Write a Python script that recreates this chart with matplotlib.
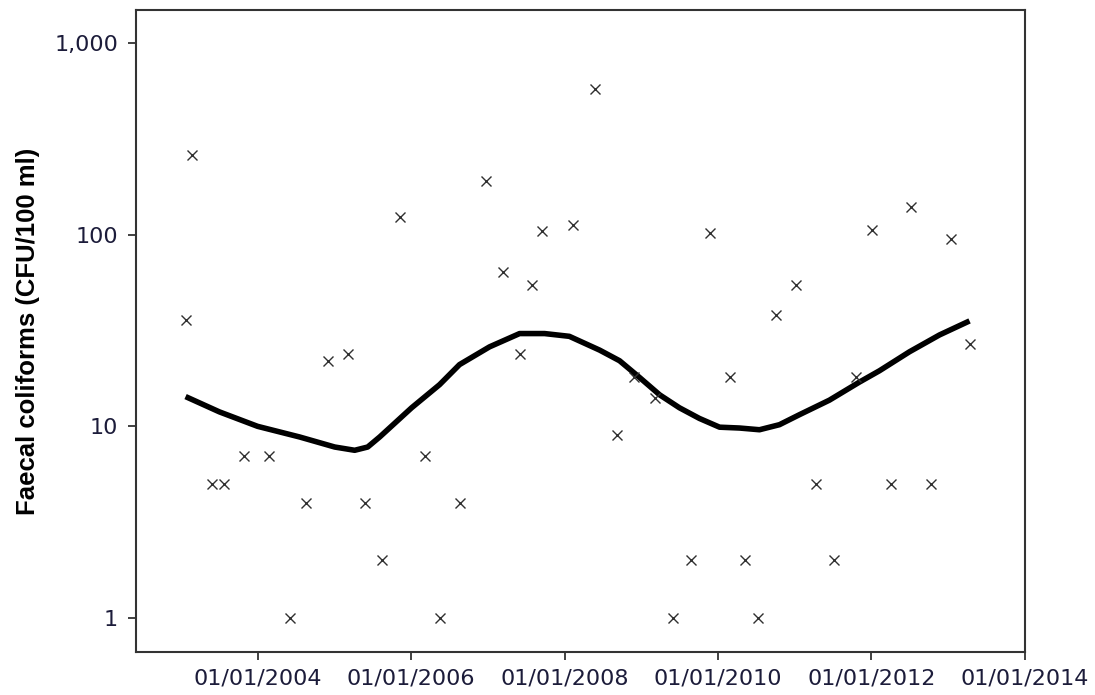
import matplotlib
matplotlib.use("Agg")
import matplotlib.pyplot as plt
import matplotlib.dates as mdates
from matplotlib.ticker import FixedLocator, FuncFormatter, NullLocator
import pandas as pd

sample_dates = ["2003-01-23", "2003-02-21", "2003-05-27", "2003-07-23", "2003-10-26",
                "2004-02-26", "2004-06-01", "2004-08-17", "2004-11-29", "2005-03-05",
                "2005-05-25", "2005-08-14", "2005-11-09", "2006-03-06", "2006-05-16",
                "2006-08-19", "2006-12-25", "2007-03-12", "2007-06-01", "2007-08-01",
                "2007-09-18", "2008-02-08", "2008-05-23", "2008-09-05", "2008-11-29",
                "2009-03-05", "2009-05-29", "2009-08-23", "2009-11-25", "2010-03-01",
                "2010-05-08", "2010-07-12", "2010-10-05", "2011-01-09", "2011-04-14",
                "2011-07-08", "2011-10-21", "2012-01-05", "2012-04-04", "2012-07-07",
                "2012-10-10", "2013-01-16", "2013-04-12"]
sample_values = [36, 260, 5, 5, 7, 7, 1, 4, 22, 24, 4, 2, 124, 7, 1, 4, 190, 64, 24, 55,
                 104, 112, 580, 9, 18, 14, 1, 2, 102, 18, 2, 1, 38, 55, 5, 2, 18, 106,
                 5, 140, 5, 95, 27]

trend_dates = ["2003-01-23", "2003-07-03", "2004-01-01", "2004-07-19", "2005-01-02",
               "2005-04-07", "2005-06-08", "2005-08-04", "2006-01-03", "2006-05-16",
               "2006-08-19", "2007-01-09", "2007-06-01", "2007-09-28", "2008-01-24",
               "2008-06-16", "2008-09-19", "2008-12-23", "2009-03-29", "2009-07-01",
               "2009-10-04", "2010-01-08", "2010-04-13", "2010-07-17", "2010-10-20",
               "2011-01-23", "2011-06-15", "2011-11-04", "2012-02-08", "2012-06-30",
               "2012-11-20", "2013-04-12"]
trend_values = [14.3, 11.9, 10.0, 8.8, 7.8, 7.5, 7.8, 8.8, 12.5, 16.5, 21, 26, 30.5,
                30.5, 29.5, 25, 22, 18, 14.6, 12.5, 11, 9.9, 9.8, 9.6, 10.2, 11.5,
                13.7, 17, 19.5, 24.5, 30, 35.5]

y_ticks = [1, 10, 100, 1000]
y_label = "Faecal coliforms (CFU/100 ml)"

fig = plt.figure(figsize=(10.95, 6.95), dpi=100)
ax = fig.add_axes([136/1095, 1 - 652/695, (1025-136)/1095, (652-10)/695])

ax.plot(pd.to_datetime(trend_dates), trend_values, color="black", lw=4.0,
        solid_joinstyle="round", solid_capstyle="butt", zorder=3)
ax.plot(pd.to_datetime(sample_dates), sample_values, linestyle="none", marker="x",
        markersize=7, markeredgewidth=1.0, color="#303030", zorder=4)

ax.set_yscale("log")
ax.set_ylim(0.664, 1490)
ax.set_xlim(pd.Timestamp("2002-06-01"), pd.Timestamp("2014-01-01"))

ax.yaxis.set_major_locator(FixedLocator(y_ticks))
ax.yaxis.set_minor_locator(NullLocator())
ax.yaxis.set_major_formatter(FuncFormatter(lambda v, p: f"{v:,.0f}"))
ax.xaxis.set_major_locator(mdates.YearLocator(2))
ax.xaxis.set_major_formatter(mdates.DateFormatter("%d/%m/%Y"))

for s in ax.spines.values():
    s.set_linewidth(1.5)
    s.set_color("#333333")

ax.tick_params(axis="both", direction="out", length=5.5, width=1.3, color="#333333",
               labelsize=16, labelcolor="#1c1c3a")
ax.tick_params(axis="y", pad=7.5)
ax.tick_params(axis="x", pad=6.5)
for lab in ax.get_xticklabels() + ax.get_yticklabels():
    lab.set_family("DejaVu Sans")

ax.set_ylabel(y_label, fontsize=18.5, fontweight="bold", family="Liberation Sans",
              color="black")
ax.yaxis.set_label_coords((40 - 136) / 889, 0.5)

fig.savefig("out.png", dpi=100)
